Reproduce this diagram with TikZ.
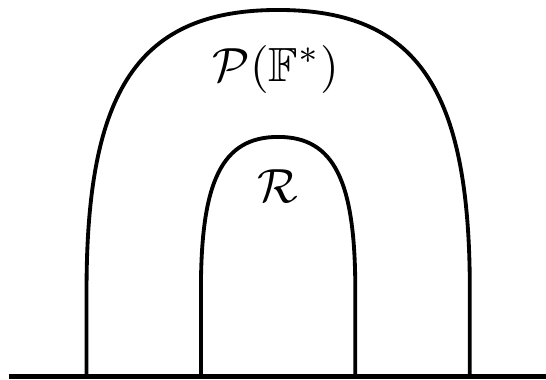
\documentclass[tikz,border=0pt]{standalone}
\usepackage{amsmath,amssymb}
\begin{document}
\begin{tikzpicture}
    \useasboundingbox (0,-0.024) rectangle (4.0,2.759);
    % Ground line
    \draw[line width=1pt] (0.064,0) -- (4.0,0);
    % Outer arch
    \draw[thick] (0.634,0) -- (0.634,0.635) .. controls (0.634,2.100) and (1.014,2.686) .. (2.038,2.686)
        .. controls (3.061,2.686) and (3.442,2.100) .. (3.442,0.635) -- (3.442,0);
    \node (pf) at (2.021,2.253) {$\mathcal{P}(\mathbb{F}^*)$};
    % Inner arch
    \draw[thick] (1.472,0) -- (1.472,0.635) .. controls (1.472,1.433) and (1.626,1.756) .. (2.038,1.756)
        .. controls (2.449,1.756) and (2.603,1.433) .. (2.603,0.635) -- (2.603,0);
    \node (r) at (2.036,1.397) {$\mathcal{R}$};
\end{tikzpicture}
\end{document}
